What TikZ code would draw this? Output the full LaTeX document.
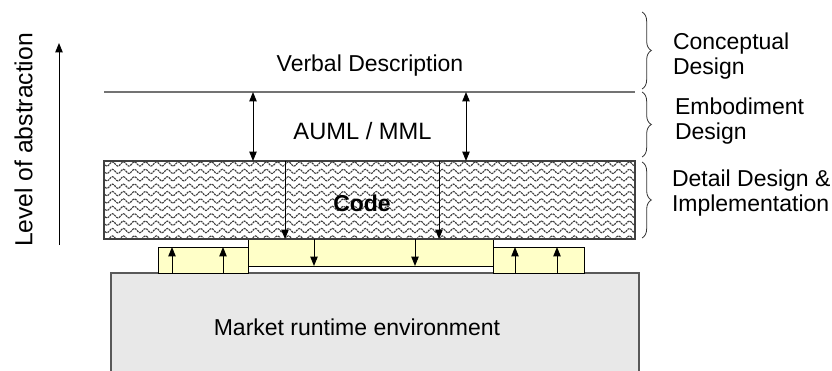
\documentclass[tikz,border=0pt]{standalone}
\usepackage{fontspec}
\setmainfont{Liberation Sans}
\usetikzlibrary{decorations.pathmorphing,decorations.pathreplacing,arrows.meta,fit}
\definecolor{yel}{HTML}{FFFFC8}
\definecolor{grayfill}{HTML}{E8E8E8}
\begin{document}
\begin{tikzpicture}[x=0.75pt,y=-0.75pt,
  font=\fontsize{17.25}{18.75}\selectfont,
  every node/.style={inner sep=0pt,outer sep=0pt},
  arr/.style={line width=0.75pt,-{Triangle[length=7pt,width=5.5pt]}},
  dblarr/.style={line width=0.75pt,{Triangle[length=7pt,width=5.5pt]}-{Triangle[length=7pt,width=5.5pt]}},
  ybox/.style={draw=black,line width=0.75pt,fill=yel},
  wave/.style={draw=black!75,line width=0.85pt,dash pattern=on 1.6pt off 0.6pt,
    decorate,decoration={snake,segment length=8.25pt,amplitude=1.6pt}},
  brc/.style={draw=black!80,line width=0.6pt,decorate,
    decoration={brace,amplitude=7pt,aspect=0.5}},
  lbl/.style={align=left,anchor=west}]
\useasboundingbox (0,0) rectangle (832,371);

% gray runtime box (open at bottom)
\fill[grayfill] (111,273) rectangle (639,372);
\draw[black!65,line width=1pt] (111,372) -- (111,273) -- (639,273) -- (639,372);
\node (mre) at (357,327) {Market runtime environment};

% yellow boxes
\node[ybox,fit={(248,239) (493,266)}] (ymid) {};
\node[ybox,fit={(158,247) (248,273)}] (yleft) {};
\node[ybox,fit={(493,247) (584,273)}] (yright) {};

% code box
\node[fit={(104,161) (635,239)}] (code) {};
\begin{scope}
  \clip (104,161) rectangle (635,239);
  \foreach \yy in {164,171.4,...,241} \draw[wave] (98,\yy) -- (645,\yy);
\end{scope}
\draw[black!75,line width=1pt] (104,161) rectangle (635,239);
\node[font=\fontsize{17.25}{18.75}\selectfont\bfseries] (codetxt) at (362,203.5) {Code};

% separator line
\coordinate (sepL) at (104,92);
\coordinate (sepR) at (635,92);
\draw[black!55,line width=0.9pt] (sepL) -- (sepR);

\node (verbal) at (370,65.5) {Verbal Description};
\node[font=\fontsize{17.75}{18.75}\selectfont] (auml) at (362.5,131.5) {AUML / MML};

% arrows between separator and code
\coordinate (d1t) at (253,92);  \coordinate (d1b) at (253,161);
\coordinate (d2t) at (466,92);  \coordinate (d2b) at (466,161);
\draw[dblarr] (d1t) -- (d1b);
\draw[dblarr] (d2t) -- (d2b);

% arrows through code to middle yellow
\coordinate (c1t) at (285,161); \coordinate (c1b) at (285,239);
\coordinate (c2t) at (439,161); \coordinate (c2b) at (439,239);
\draw[arr] (c1t) -- (c1b);
\draw[arr] (c2t) -- (c2b);

% arrows in middle yellow
\coordinate (m1t) at (314,239); \coordinate (m1b) at (314,266);
\coordinate (m2t) at (415,239); \coordinate (m2b) at (415,266);
\draw[arr] (m1t) -- (m1b);
\draw[arr] (m2t) -- (m2b);

% arrows up in side yellow boxes
\foreach \xx/\nm in {172/a,223/b,515/c,557/d}{
  \coordinate (u\nm b) at (\xx,273); \coordinate (u\nm t) at (\xx,247);
  \draw[arr] (u\nm b) -- (u\nm t);
}

% level of abstraction
\node[rotate=90,font=\fontsize{18.5}{20}\selectfont] (loa) at (23.5,140) {Level of abstraction};
\coordinate (loab) at (59,245);
\coordinate (loat) at (59,43);
\draw[arr] (loab) -- (loat);

% braces
\coordinate (b1t) at (642,12);  \coordinate (b1b) at (642,89);
\coordinate (b2t) at (642,92);  \coordinate (b2b) at (642,157);
\coordinate (b3t) at (642,162); \coordinate (b3b) at (642,238);
\draw[brc] (b1t) -- (b1b);
\draw[brc] (b2t) -- (b2b);
\draw[brc] (b3t) -- (b3b);

\node[lbl] (lc) at (673,56.5) {Conceptual\\Design};
\node[lbl] (le) at (675,121.5) {Embodiment\\Design};
\node[lbl] (ld) at (672,193.5) {Detail Design \&\\Implementation};
\end{tikzpicture}
\end{document}
